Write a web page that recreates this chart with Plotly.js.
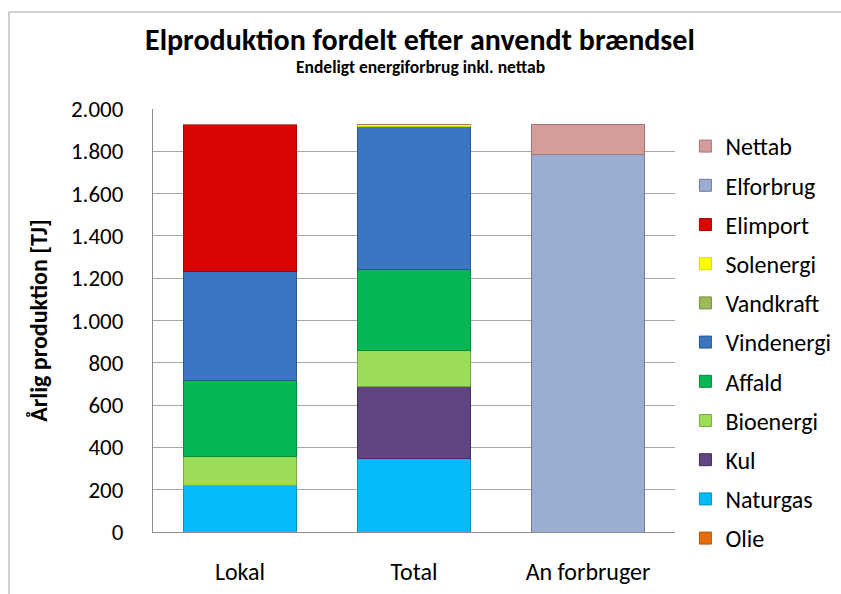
<!DOCTYPE html>
<html>
<head>
<meta charset="utf-8">
<script src="https://cdn.plot.ly/plotly-3.0.1.min.js"></script>
<style>html,body{margin:0;padding:0;background:#fff;}#chart{width:841px;height:594px;}</style>
</head>
<body>
<div id="chart"></div>
<script>
const categories = ["Lokal", "Total", "An forbruger"];
const olie       = [0, 0, 0];
const naturgas   = [220, 348, 0];
const kul        = [0, 338, 0];
const bioenergi  = [139, 173, 0];
const affald     = [356, 384, 0];
const vindenergi = [516, 675, 0];
const vandkraft  = [0, 0, 0];
const solenergi  = [0, 8, 0];
const elimport   = [695, 0, 0];
const elforbrug  = [0, 0, 1783];
const nettab     = [0, 0, 143];
const yTicks = [0, 200, 400, 600, 800, 1000, 1200, 1400, 1600, 1800, 2000];

const series = [
  {name: "Olie",       y: olie,       color: "#E46C0A", line: "#B85608"},
  {name: "Naturgas",   y: naturgas,   color: "#05BCF9", line: "#0493C4"},
  {name: "Kul",        y: kul,        color: "#5F4682", line: "#3F2D5A"},
  {name: "Bioenergi",  y: bioenergi,  color: "#9CDD58", line: "#76AD3E"},
  {name: "Affald",     y: affald,     color: "#05B853", line: "#038A3D"},
  {name: "Vindenergi", y: vindenergi, color: "#3B76C2", line: "#2B5690"},
  {name: "Vandkraft",  y: vandkraft,  color: "#9BBB59", line: "#76923C"},
  {name: "Solenergi",  y: solenergi,  color: "#FFFF00", line: "#D8D800"},
  {name: "Elimport",   y: elimport,   color: "#D90505", line: "#A80303"},
  {name: "Elforbrug",  y: elforbrug,  color: "#9BADD2", line: "#6E7C99"},
  {name: "Nettab",     y: nettab,     color: "#D59C9C", line: "#A87575"}
];

const traces = series.map((s, i) => ({
  type: "bar",
  name: s.name,
  x: categories,
  y: s.y,
  legendgroup: s.name,
  legendrank: 1000 - i,
  marker: {color: s.color, line: {color: s.line, width: 1}},
  hoverinfo: "name+y"
}));

const baseFont = "Carlito, 'Open Sans', 'Noto Sans', sans-serif";

// plot area in pixels
const L = 153, R = 675, T = 109, B = 532;
const px = v => (v - L) / (R - L);
const py = v => (B - v) / (B - T);

const layout = {
  width: 841, height: 594,
  paper_bgcolor: "#ffffff", plot_bgcolor: "#ffffff",
  margin: {l: L, r: 841 - R, t: T, b: 594 - B},
  barmode: "stack",
  bargap: 0.348,
  separators: ",.",
  font: {family: baseFont, size: 22, color: "#000000"},
  showlegend: true,
  legend: {
    traceorder: "grouped",
    tracegroupgap: 5,
    xref: "container", yref: "container",
    x: 0.815, y: 1 - 124 / 594, xanchor: "left", yanchor: "top",
    maxheight: 1,
    font: {family: baseFont, size: 24, color: "#000"},
    itemwidth: 30
  },
  xaxis: {
    type: "category",
    range: [-0.5, 2.5],
    showline: true, linecolor: "#8C8C8C", linewidth: 1,
    ticks: "", showgrid: false,
    ticklabelstandoff: 18,
    tickfont: {family: baseFont, size: 24, color: "#000"}
  },
  yaxis: {
    range: [0, 2000],
    tickvals: yTicks,
    tickformat: ",d",
    showline: true, linecolor: "#8C8C8C", linewidth: 1,
    showgrid: true, gridcolor: "#A6A6A6", gridwidth: 1,
    zeroline: false,
    ticks: "", ticklen: 0,
    ticklabelstandoff: 24,
    tickfont: {family: baseFont, size: 23, color: "#000"},
    title: {text: "<b>Årlig produktion [TJ]</b>", font: {family: baseFont, size: 24, color: "#000"}, standoff: 16}
  },
  annotations: [
    {text: "<b>Elproduktion fordelt efter anvendt brændsel</b>", xref: "paper", yref: "paper",
     x: px(420), y: py(39), xanchor: "center", yanchor: "middle", showarrow: false,
     font: {family: baseFont, size: 30, color: "#000"}},
    {text: "<b>Endeligt energiforbrug inkl. nettab</b>", xref: "paper", yref: "paper",
     x: px(420), y: py(67), xanchor: "center", yanchor: "middle", showarrow: false,
     font: {family: baseFont, size: 17.5, color: "#000"}}
  ],
  shapes: [
    {type: "line", xref: "paper", yref: "paper", x0: px(9), x1: px(9), y0: py(12), y1: py(600), line: {color: "#BFBFBF", width: 1.5}},
    {type: "line", xref: "paper", yref: "paper", x0: px(9), x1: px(841), y0: py(12), y1: py(12), line: {color: "#BFBFBF", width: 1.5}}
  ]
};

Plotly.newPlot("chart", traces, layout, {displayModeBar: false, staticPlot: true});
</script>
</body>
</html>
